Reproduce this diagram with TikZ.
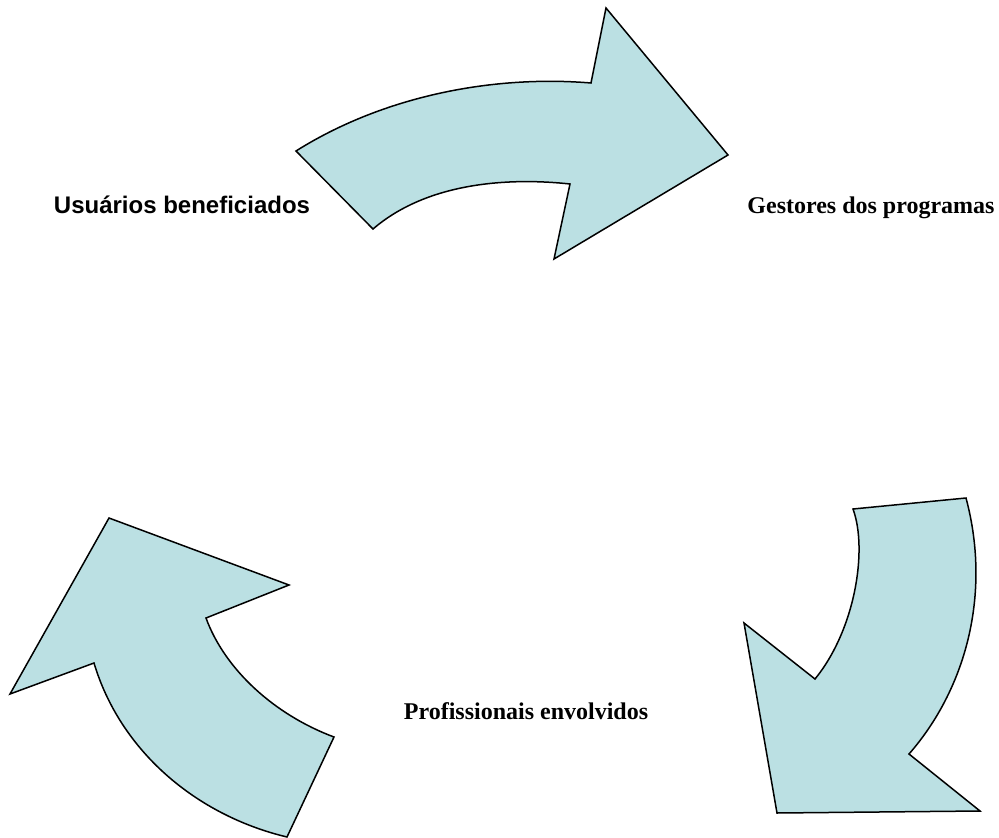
\documentclass[tikz,border=0pt]{standalone}
\usepackage{fontspec}
\setmainfont{Liberation Serif}
\newfontfamily\arialfont{Liberation Sans}
\usetikzlibrary{positioning}

\definecolor{azulclaro}{RGB}{187,224,227}

\begin{document}
\begin{tikzpicture}[x=1pt, y=-1pt,
    flecha/.style={draw=black, fill=azulclaro, line width=1.5pt, line join=miter},
    rotulo/.style={anchor=base, inner sep=0pt},
    serif/.style={rotulo, font=\fontsize{24}{28}\selectfont\bfseries},
    sans/.style={rotulo, font=\arialfont\fontsize{24}{28}\selectfont\bfseries}]

    \useasboundingbox (0,0) rectangle (999,838);

    % Flecha de arriba
    \draw[flecha] (296,151) .. controls (385,95) and (495,75) .. (591,83)
        -- (606,8) -- (728,155) -- (554,259) -- (570,184)
        .. controls (515,178) and (430,180) .. (373,229) -- cycle;

    % Flecha de la derecha
    \draw[flecha] (966,498) .. controls (992,595) and (965,690) .. (909,754)
        -- (980,811) -- (777,813) -- (744,623) -- (815,679)
        .. controls (855,630) and (868,550) .. (853,509) -- cycle;

    % Flecha de la izquierda
    \draw[flecha] (287,837) .. controls (195,815) and (120,750) .. (94,663)
        -- (10,694) -- (109,518) -- (289,585) -- (206,618)
        .. controls (225,670) and (275,715) .. (334,737) -- cycle;

    % Rotulos
    \node[sans] (usuarios) at (182,213) {Usuários beneficiados};
    \node[serif] (gestores) at (871,213) {Gestores dos programas};
    \node[serif] (profissionais) at (526,719) {Profissionais envolvidos};

\end{tikzpicture}
\end{document}
